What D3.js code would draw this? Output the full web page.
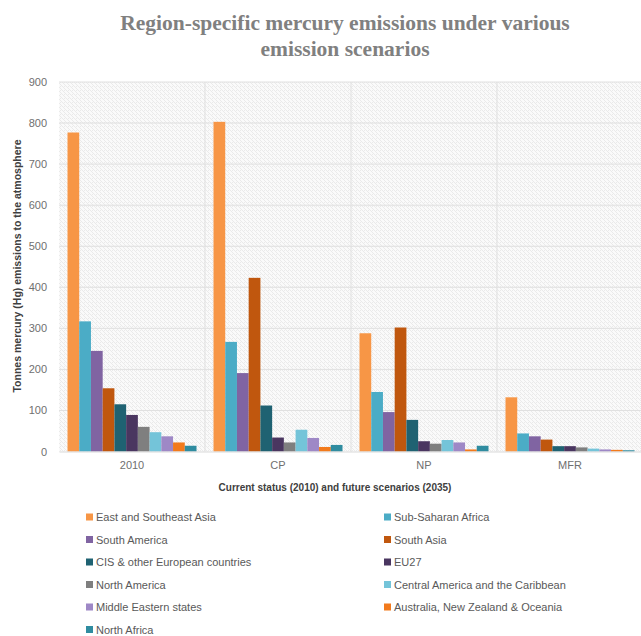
<!DOCTYPE html>
<html>
<head>
<meta charset="utf-8">
<script src="https://cdn.jsdelivr.net/npm/d3@7"></script>
<style>
  body { margin: 0; background: #fff; }
  text { font-family: "Liberation Sans", Arial, sans-serif; }
</style>
</head>
<body>
<div id="container"></div>
<script>
let w = 641;
let h = 636;

// scenarios on the x axis
let scenarios = ['2010', 'CP', 'NP', 'MFR'];

// regions, in the order of the bars
let regions = [
  'East and Southeast Asia', 'Sub-Saharan Africa', 'South America', 'South Asia',
  'CIS & other European countries', 'EU27', 'North America',
  'Central America and the Caribbean', 'Middle Eastern states',
  'Australia, New Zealand & Oceania', 'North Africa'
];

let regionColors = [
  '#f79646', '#4bacc6', '#8064a2', '#c0570e', '#1f6272', '#4a3660',
  '#7f7f7f', '#74c4d9', '#9e88c6', '#f27a1c', '#2f8ca0'
];

// tonnes Hg per region, one value per scenario (2010, CP, NP, MFR)
let eastSoutheastAsia = [777, 803, 288, 132];
let subSaharanAfrica  = [317, 267, 145, 44];
let southAmerica      = [245, 191, 96, 37];
let southAsia         = [154, 423, 302, 29];
let cisEurope         = [115, 112, 77, 13];
let eu27              = [89, 34, 25, 13];
let northAmerica      = [60, 22, 19, 10];
let centralAmerica    = [47, 53, 28, 7];
let middleEast        = [37, 33, 22, 5];
let australiaOceania  = [22, 11, 5, 4];
let northAfrica       = [14, 16, 14, 3];

let yTicks = [0, 100, 200, 300, 400, 500, 600, 700, 800, 900];

let seriesValues = [eastSoutheastAsia, subSaharanAfrica, southAmerica, southAsia,
  cisEurope, eu27, northAmerica, centralAmerica, middleEast, australiaOceania, northAfrica];

let plotLeft = 59, plotTop = 82, plotRight = 643, plotBottom = 451.5;

let viz = d3.select('#container')
  .append('svg')
    .attr('width', w)
    .attr('height', h)
    .style('background-color', 'white');

// hatch pattern for plot background
let defs = viz.append('defs');
let pat = defs.append('pattern')
    .attr('id', 'hatch')
    .attr('patternUnits', 'userSpaceOnUse')
    .attr('width', 4)
    .attr('height', 4);
pat.append('rect').attr('width', 4).attr('height', 4).attr('fill', '#fafafa');
pat.append('path')
    .attr('d', 'M-1,1 l2,2 M0,0 l4,4 M3,-1 l2,2')
    .attr('stroke', '#e6e6e6')
    .attr('stroke-width', 0.8);

let x0 = d3.scaleBand().domain(scenarios).range([plotLeft, plotRight]);
let x1 = d3.scaleBand().domain(regions).range([8.5, x0.bandwidth() - 8.5]);
let y = d3.scaleLinear().domain([0, 900]).range([plotBottom, plotTop]);
let color = d3.scaleOrdinal().domain(regions).range(regionColors);

viz.append('rect')
    .attr('x', plotLeft).attr('y', plotTop)
    .attr('width', plotRight - plotLeft).attr('height', plotBottom - plotTop)
    .attr('fill', 'url(#hatch)');

// gridlines
viz.append('g').selectAll('line').data(yTicks.slice(1)).enter()
  .append('line')
    .attr('x1', plotLeft).attr('x2', plotRight)
    .attr('y1', d => y(d)).attr('y2', d => y(d))
    .attr('stroke', '#e0e0e0');

viz.append('g').selectAll('line').data(scenarios.slice(1)).enter()
  .append('line')
    .attr('x1', d => x0(d)).attr('x2', d => x0(d))
    .attr('y1', plotTop).attr('y2', plotBottom)
    .attr('stroke', '#e0e0e0');

// bars
let groups = viz.append('g').selectAll('g').data(scenarios).enter()
  .append('g')
    .attr('transform', d => 'translate(' + x0(d) + ',0)');

groups.selectAll('rect')
  .data((s, i) => regions.map((r, k) => ({ region: r, value: seriesValues[k][i] })))
  .enter().append('rect')
    .attr('x', d => x1(d.region))
    .attr('width', x1.bandwidth())
    .attr('y', d => y(d.value))
    .attr('height', d => plotBottom - y(d.value))
    .attr('fill', d => color(d.region));

// axes
let yAxis = d3.axisLeft(y).tickValues(yTicks).tickSize(0).tickPadding(12);
let yG = viz.append('g').attr('transform', 'translate(' + plotLeft + ',0)').call(yAxis);
yG.select('.domain').remove();
yG.selectAll('text').attr('font-size', '11px').attr('fill', '#6f6f6f')
  .style('font-family', '"Liberation Sans", Arial, sans-serif');

let xAxis = d3.axisBottom(x0).tickSize(0).tickPadding(10);
let xG = viz.append('g').attr('transform', 'translate(0,' + plotBottom + ')').call(xAxis);
xG.select('.domain').attr('stroke', '#d9d9d9');
xG.selectAll('text').attr('font-size', '11px').attr('fill', '#6f6f6f')
  .style('font-family', '"Liberation Sans", Arial, sans-serif');

// titles
viz.append('text')
    .attr('x', 345).attr('y', 30)
    .attr('text-anchor', 'middle')
    .style('font-family', '"Liberation Serif", serif')
    .attr('font-size', '21.5px').attr('font-weight', 'bold').attr('fill', '#808080')
    .text('Region-specific mercury emissions under various');
viz.append('text')
    .attr('x', 345).attr('y', 56)
    .attr('text-anchor', 'middle')
    .style('font-family', '"Liberation Serif", serif')
    .attr('font-size', '21.5px').attr('font-weight', 'bold').attr('fill', '#808080')
    .text('emission scenarios');

viz.append('text')
    .attr('transform', 'translate(21,266) rotate(-90)')
    .attr('text-anchor', 'middle')
    .attr('font-size', '10.5px').attr('font-weight', 'bold').attr('fill', '#404040')
    .text('Tonnes mercury (Hg) emissions to the atmosphere');

viz.append('text')
    .attr('x', 335).attr('y', 491)
    .attr('text-anchor', 'middle')
    .attr('font-size', '10px').attr('font-weight', 'bold').attr('fill', '#404040')
    .text('Current status (2010) and future scenarios (2035)');

// legend: two columns
let legend = viz.append('g').selectAll('g').data(regions).enter()
  .append('g')
    .attr('transform', (d, i) => 'translate(' + (i % 2 == 0 ? 86 : 384) + ',' + (517 + Math.floor(i / 2) * 22.5) + ')');

legend.append('rect')
    .attr('x', 0).attr('y', -3.5)
    .attr('width', 7).attr('height', 7)
    .attr('fill', d => color(d));

legend.append('text')
    .attr('x', 10).attr('y', 4)
    .attr('font-size', '11px').attr('fill', '#595959')
    .text(d => d);
</script>
</body>
</html>
